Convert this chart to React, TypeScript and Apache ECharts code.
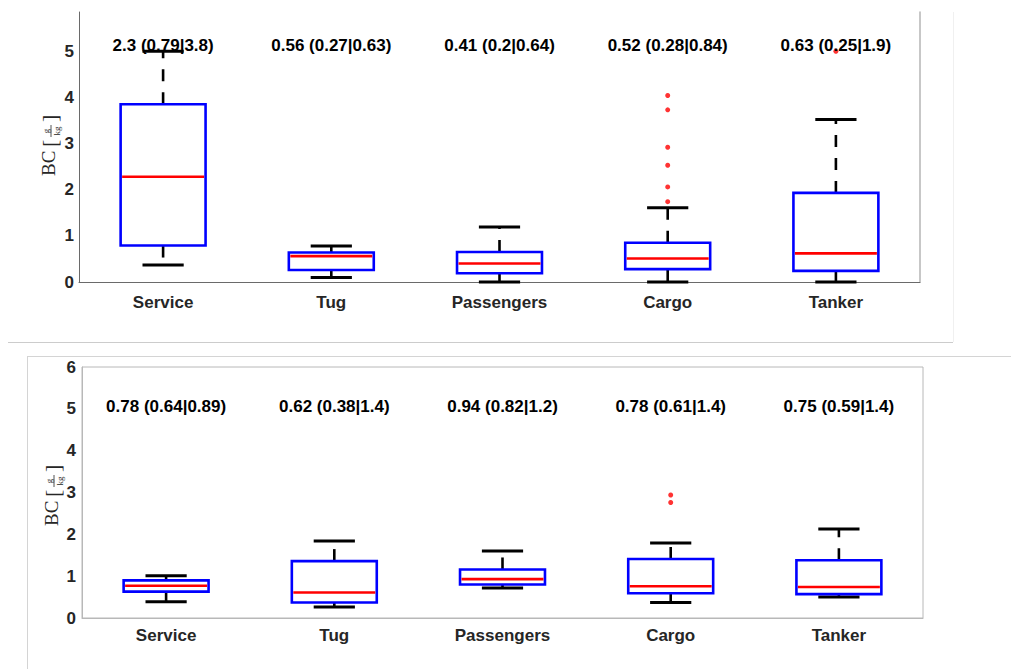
import React, { useEffect, useRef } from "react";
import * as echarts from "echarts";

const categories = ["Service", "Tug", "Passengers", "Cargo", "Tanker"];

// [category index, lower whisker, q1, median, q3, upper whisker]
const topStats = [
  [0, 0.37, 0.79, 2.28, 3.85, 5.0],
  [1, 0.1, 0.26, 0.56, 0.64, 0.78],
  [2, 0.0, 0.19, 0.4, 0.65, 1.19],
  [3, 0.0, 0.28, 0.51, 0.85, 1.61],
  [4, 0.0, 0.24, 0.62, 1.93, 3.52],
];
const topOutliers = [
  [3, 4.04],
  [3, 3.73],
  [3, 2.92],
  [3, 2.53],
  [3, 2.06],
  [3, 1.74],
  [4, 5.0],
];
const topLabels = [
  "2.3 (0.79|3.8)",
  "0.56 (0.27|0.63)",
  "0.41 (0.2|0.64)",
  "0.52 (0.28|0.84)",
  "0.63 (0.25|1.9)",
];

const bottomStats = [
  [0, 0.39, 0.63, 0.77, 0.9, 1.01],
  [1, 0.26, 0.37, 0.61, 1.36, 1.84],
  [2, 0.72, 0.8, 0.93, 1.16, 1.6],
  [3, 0.37, 0.59, 0.76, 1.41, 1.79],
  [4, 0.5, 0.57, 0.74, 1.38, 2.13],
];
const bottomOutliers = [
  [3, 2.94],
  [3, 2.76],
];
const bottomLabels = [
  "0.78 (0.64|0.89)",
  "0.62 (0.38|1.4)",
  "0.94 (0.82|1.2)",
  "0.78 (0.61|1.4)",
  "0.75 (0.59|1.4)",
];

const labelLevel = 5;
const topYMax = 5.85;
const bottomYMax = 6;

const SANS = "Liberation Sans, Arial, Helvetica, sans-serif";
const SERIF = "Liberation Serif, Times New Roman, serif";

function renderBox(params: any, api: any) {
  const i = api.value(0);
  const lo = api.coord([i, api.value(1)]);
  const q1 = api.coord([i, api.value(2)]);
  const md = api.coord([i, api.value(3)]);
  const q3 = api.coord([i, api.value(4)]);
  const hi = api.coord([i, api.value(5)]);
  const band = api.size([1, 0])[0];
  const bw = band * 0.505;
  const cw = band * 0.245;
  const cx = q1[0];
  const dash = { stroke: "#000", lineWidth: 2.6, lineDash: [12, 11], fill: null };
  const cap = { stroke: "#000", lineWidth: 3 };
  return {
    type: "group",
    children: [
      { type: "line", shape: { x1: cx, y1: q3[1], x2: cx, y2: hi[1] }, style: dash },
      { type: "line", shape: { x1: cx, y1: q1[1], x2: cx, y2: lo[1] }, style: dash },
      { type: "line", shape: { x1: cx - cw / 2, y1: hi[1], x2: cx + cw / 2, y2: hi[1] }, style: cap },
      { type: "line", shape: { x1: cx - cw / 2, y1: lo[1], x2: cx + cw / 2, y2: lo[1] }, style: cap },
      {
        type: "rect",
        shape: { x: cx - bw / 2, y: q3[1], width: bw, height: q1[1] - q3[1] },
        style: { fill: "none", stroke: "#0000ff", lineWidth: 2.6 },
      },
      {
        type: "line",
        shape: { x1: cx - bw / 2 + 1.5, y1: md[1], x2: cx + bw / 2 - 1.5, y2: md[1] },
        style: { stroke: "#ff0000", lineWidth: 2.6 },
      },
    ],
  };
}

function makeTextRenderer(labels: string[], dy: number) {
  return (params: any, api: any) => {
    const p = api.coord([api.value(0), api.value(1)]);
    return {
      type: "text",
      x: p[0],
      y: p[1] + dy,
      style: {
        text: labels[params.dataIndex],
        fontSize: 17,
        fontWeight: "bold",
        fontFamily: SANS,
        fill: "#000",
        align: "center",
        verticalAlign: "middle",
      },
    };
  };
}

function yLabel(cx: number, cy: number) {
  const c = "#262626";
  return {
    type: "group",
    x: cx,
    y: cy,
    rotation: Math.PI / 2,
    silent: true,
    children: [
      {
        type: "text",
        x: -32,
        y: 0,
        style: { text: "BC", fontSize: 19, fontFamily: SERIF, fill: c, align: "left", verticalAlign: "middle" },
      },
      {
        type: "text",
        x: -3,
        y: 1,
        style: { text: "[", fontSize: 22, fontFamily: SERIF, fill: c, align: "left", verticalAlign: "middle" },
      },
      {
        type: "text",
        x: 13,
        y: -2.5,
        style: { text: "g", fontSize: 9, fontFamily: SERIF, fill: c, align: "center", verticalAlign: "middle" },
      },
      { type: "line", shape: { x1: 7, y1: 2.5, x2: 19, y2: 2.5 }, style: { stroke: c, lineWidth: 0.8 } },
      {
        type: "text",
        x: 13,
        y: 8,
        style: { text: "kg", fontSize: 9, fontFamily: SERIF, fill: c, align: "center", verticalAlign: "middle" },
      },
      {
        type: "text",
        x: 22,
        y: 1,
        style: { text: "]", fontSize: 22, fontFamily: SERIF, fill: c, align: "left", verticalAlign: "middle" },
      },
    ],
  };
}

const intLabel = (v: number) => (Math.abs(v - Math.round(v)) < 1e-6 ? String(Math.round(v)) : "");

export default function App() {
  const ref = useRef<HTMLDivElement>(null);
  useEffect(() => {
    document.body.style.margin = "0";
    const chart = echarts.init(ref.current!, null, { renderer: "svg" });
    const xAxisBase = {
      type: "category",
      data: categories,
      boundaryGap: true,
      axisTick: { show: false },
      splitLine: { show: false },
      axisLabel: { fontSize: 17, fontWeight: "bold", fontFamily: SANS, color: "#262626" },
    };
    const yLabelStyle = { fontSize: 17, fontWeight: "bold", fontFamily: SANS, color: "#262626", formatter: intLabel };
    chart.setOption({
      animation: false,
      backgroundColor: "#fff",
      grid: [
        { left: 79, top: 12, width: 841, height: 270, show: false },
        { left: 82, top: 367, width: 841, height: 251, show: true, borderColor: "#b8b8b8", borderWidth: 1 },
      ],
      xAxis: [
        {
          ...xAxisBase,
          gridIndex: 0,
          axisLine: { show: true, lineStyle: { color: "#6a6a6a", width: 1 } },
          axisLabel: { ...xAxisBase.axisLabel, margin: 12 },
        },
        {
          ...xAxisBase,
          gridIndex: 1,
          axisLine: { show: true, lineStyle: { color: "#b8b8b8", width: 1 } },
          axisLabel: { ...xAxisBase.axisLabel, margin: 9 },
        },
      ],
      yAxis: [
        {
          type: "value",
          gridIndex: 0,
          min: 0,
          max: topYMax,
          interval: 1,
          axisLine: { show: true, lineStyle: { color: "#6a6a6a", width: 1 } },
          axisTick: { show: false },
          splitLine: { show: false },
          axisLabel: { ...yLabelStyle, margin: 5, showMaxLabel: false },
        },
        {
          type: "value",
          gridIndex: 0,
          position: "right",
          min: 0,
          max: topYMax,
          interval: 1,
          axisLine: { show: true, lineStyle: { color: "#b5b5b5", width: 1.5 } },
          axisTick: { show: false },
          splitLine: { show: false },
          axisLabel: { show: false },
        },
        {
          type: "value",
          gridIndex: 1,
          min: 0,
          max: bottomYMax,
          interval: 1,
          axisLine: { show: true, lineStyle: { color: "#b8b8b8", width: 1 } },
          axisTick: { show: false },
          splitLine: { show: false },
          axisLabel: { ...yLabelStyle, margin: 6 },
        },
      ],
      series: [
        {
          type: "custom",
          xAxisIndex: 0,
          yAxisIndex: 0,
          renderItem: renderBox,
          data: topStats,
          encode: { x: 0, y: [1, 2, 3, 4, 5] },
          z: 2,
        },
        {
          type: "scatter",
          xAxisIndex: 0,
          yAxisIndex: 0,
          data: topOutliers,
          symbol: "circle",
          symbolSize: 5,
          itemStyle: { color: "#ff0000" },
          z: 3,
        },
        {
          type: "custom",
          xAxisIndex: 0,
          yAxisIndex: 0,
          renderItem: makeTextRenderer(topLabels, -6),
          data: topLabels.map((_, i) => [i, labelLevel]),
          z: 5,
        },
        {
          type: "custom",
          xAxisIndex: 1,
          yAxisIndex: 2,
          renderItem: renderBox,
          data: bottomStats,
          encode: { x: 0, y: [1, 2, 3, 4, 5] },
          z: 2,
        },
        {
          type: "scatter",
          xAxisIndex: 1,
          yAxisIndex: 2,
          data: bottomOutliers,
          symbol: "circle",
          symbolSize: 5,
          itemStyle: { color: "#ff0000" },
          z: 3,
        },
        {
          type: "custom",
          xAxisIndex: 1,
          yAxisIndex: 2,
          renderItem: makeTextRenderer(bottomLabels, -2),
          data: bottomLabels.map((_, i) => [i, labelLevel]),
          z: 5,
        },
      ],
      graphic: [
        { type: "line", shape: { x1: 8, y1: 342.5, x2: 953, y2: 342.5 }, style: { stroke: "#cccccc", lineWidth: 1 } },
        { type: "line", shape: { x1: 953.5, y1: 12, x2: 953.5, y2: 342 }, style: { stroke: "#f0f0f0", lineWidth: 1 } },
        { type: "line", shape: { x1: 27, y1: 356.5, x2: 1011, y2: 356.5 }, style: { stroke: "#d4d4d4", lineWidth: 1 } },
        { type: "line", shape: { x1: 27.5, y1: 356, x2: 27.5, y2: 669 }, style: { stroke: "#d4d4d4", lineWidth: 1 } },
        yLabel(48.5, 144),
        yLabel(51.5, 494),
      ],
    });
    return () => chart.dispose();
  }, []);
  return <div ref={ref} style={{ width: 1011, height: 669 }} />;
}
